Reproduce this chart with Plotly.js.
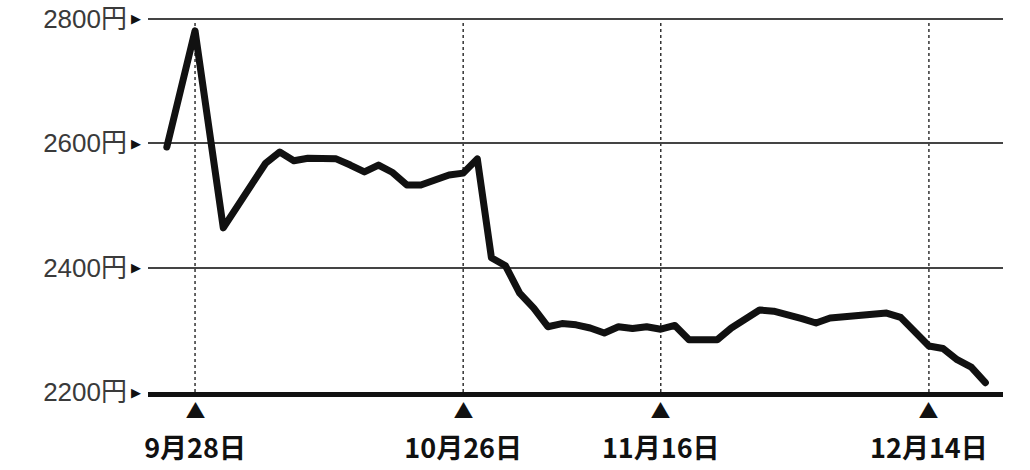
<!DOCTYPE html>
<html>
<head>
<meta charset="utf-8">
<script src="https://cdn.plot.ly/plotly-3.0.1.min.js"></script>
<style>
  html, body { margin: 0; padding: 0; background: #ffffff; }
  #chart { width: 1030px; height: 470px; }
  path.js-line { stroke-linejoin: round; stroke-linecap: round; }
</style>
</head>
<body>
<div id="chart"></div>
<script>
// Trading dates (2017) and closing prices in yen
const dates = [
  '2017-09-26', '2017-09-28', '2017-10-02', '2017-10-05', '2017-10-06',
  '2017-10-10', '2017-10-11', '2017-10-12', '2017-10-13', '2017-10-16',
  '2017-10-17', '2017-10-18', '2017-10-19', '2017-10-20', '2017-10-23',
  '2017-10-24', '2017-10-25', '2017-10-26', '2017-10-27', '2017-10-30',
  '2017-10-31', '2017-11-01', '2017-11-02', '2017-11-06', '2017-11-07',
  '2017-11-08', '2017-11-09', '2017-11-10', '2017-11-13', '2017-11-14',
  '2017-11-15', '2017-11-16', '2017-11-17', '2017-11-20', '2017-11-21',
  '2017-11-22', '2017-11-24', '2017-11-27', '2017-11-28', '2017-11-29',
  '2017-11-30', '2017-12-01', '2017-12-04', '2017-12-05', '2017-12-06',
  '2017-12-07', '2017-12-08', '2017-12-11', '2017-12-12', '2017-12-13',
  '2017-12-14', '2017-12-15', '2017-12-18', '2017-12-19', '2017-12-20'
];
const prices = [
  2594, 2781, 2464, 2568, 2586,
  2572, 2576, 2576, 2575, 2565,
  2554, 2565, 2553, 2533, 2533,
  2541, 2549, 2552, 2575, 2416,
  2403, 2359, 2335, 2305, 2310,
  2308, 2303, 2295, 2305, 2302,
  2305, 2301, 2307, 2284, 2284,
  2284, 2303, 2319, 2332, 2330,
  2325, 2318, 2311, 2319, 2321,
  2323, 2325, 2327, 2320, 2295,
  2274, 2270, 2252, 2240, 2215
];
const holidays = ['2017-10-09', '2017-11-03', '2017-11-23'];

const xTickDates = ['2017-09-28', '2017-10-26', '2017-11-16', '2017-12-14'];
const xTickLabels = ['9月28日', '10月26日', '11月16日', '12月14日'];
const yTickValues = [2200, 2400, 2600, 2800];
const yTickLabels = ['2200円', '2400円', '2600円', '2800円'];

const trace = {
  type: 'scatter',
  mode: 'lines',
  x: dates,
  y: prices,
  line: { color: '#111111', width: 7 },
  hoverinfo: 'skip'
};

const yBottom = yTickValues[0];
const yTop = yTickValues[yTickValues.length - 1];

// dotted vertical guides at the labelled dates, from bottom to top gridline
const shapes = xTickDates.map(d => ({
  type: 'line', layer: 'below',
  xref: 'x', x0: d, x1: d,
  yref: 'y', y0: yBottom, y1: yTop,
  line: { color: '#333333', width: 1.5, dash: 'dot' }
}));

const annotations = [];
xTickDates.forEach(d => annotations.push({
  x: d, xref: 'x', y: 0, yref: 'paper',
  yanchor: 'top', xanchor: 'center', yshift: -9, borderpad: 0, height: 16,
  text: '▲', showarrow: false,
  font: { family: 'Noto Sans CJK JP', size: 21, color: '#111111' }
}));
yTickValues.forEach(v => annotations.push({
  x: 0, xref: 'paper', y: v, yref: 'y',
  xanchor: 'right', yanchor: 'middle', xshift: -6, borderpad: 0,
  text: '▶', showarrow: false,
  font: { family: 'DejaVu Sans', size: 13, color: '#111111' }
}));

const layout = {
  width: 1030, height: 470,
  margin: { l: 148, r: 27, t: 13, b: 78 },
  paper_bgcolor: '#ffffff',
  plot_bgcolor: '#ffffff',
  showlegend: false,
  xaxis: {
    type: 'date',
    range: ['2017-09-22 16:00', '2017-12-21 06:00'],
    rangebreaks: [{ bounds: ['sat', 'mon'] }, { values: holidays }],
    tickmode: 'array',
    tickvals: xTickDates,
    ticktext: xTickLabels,
    ticks: '',
    ticklabelstandoff: 29,
    tickfont: { family: 'Noto Sans CJK JP', size: 27, color: '#111111', weight: 'bold' },
    showgrid: false,
    showline: true,
    linecolor: '#111111',
    linewidth: 5,
    zeroline: false,
    fixedrange: true
  },
  yaxis: {
    range: [2200, 2809.6],
    tickmode: 'array',
    tickvals: yTickValues,
    ticktext: yTickLabels,
    ticks: '',
    ticklabelstandoff: 20,
    tickfont: { family: 'Liberation Sans, Noto Sans CJK JP', size: 26, color: '#3a3a3a' },
    showgrid: true,
    gridcolor: '#444444',
    gridwidth: 2,
    showline: false,
    zeroline: false,
    fixedrange: true
  },
  shapes: shapes,
  annotations: annotations
};

Plotly.newPlot('chart', [trace], layout, { displayModeBar: false, staticPlot: true });
</script>
</body>
</html>
